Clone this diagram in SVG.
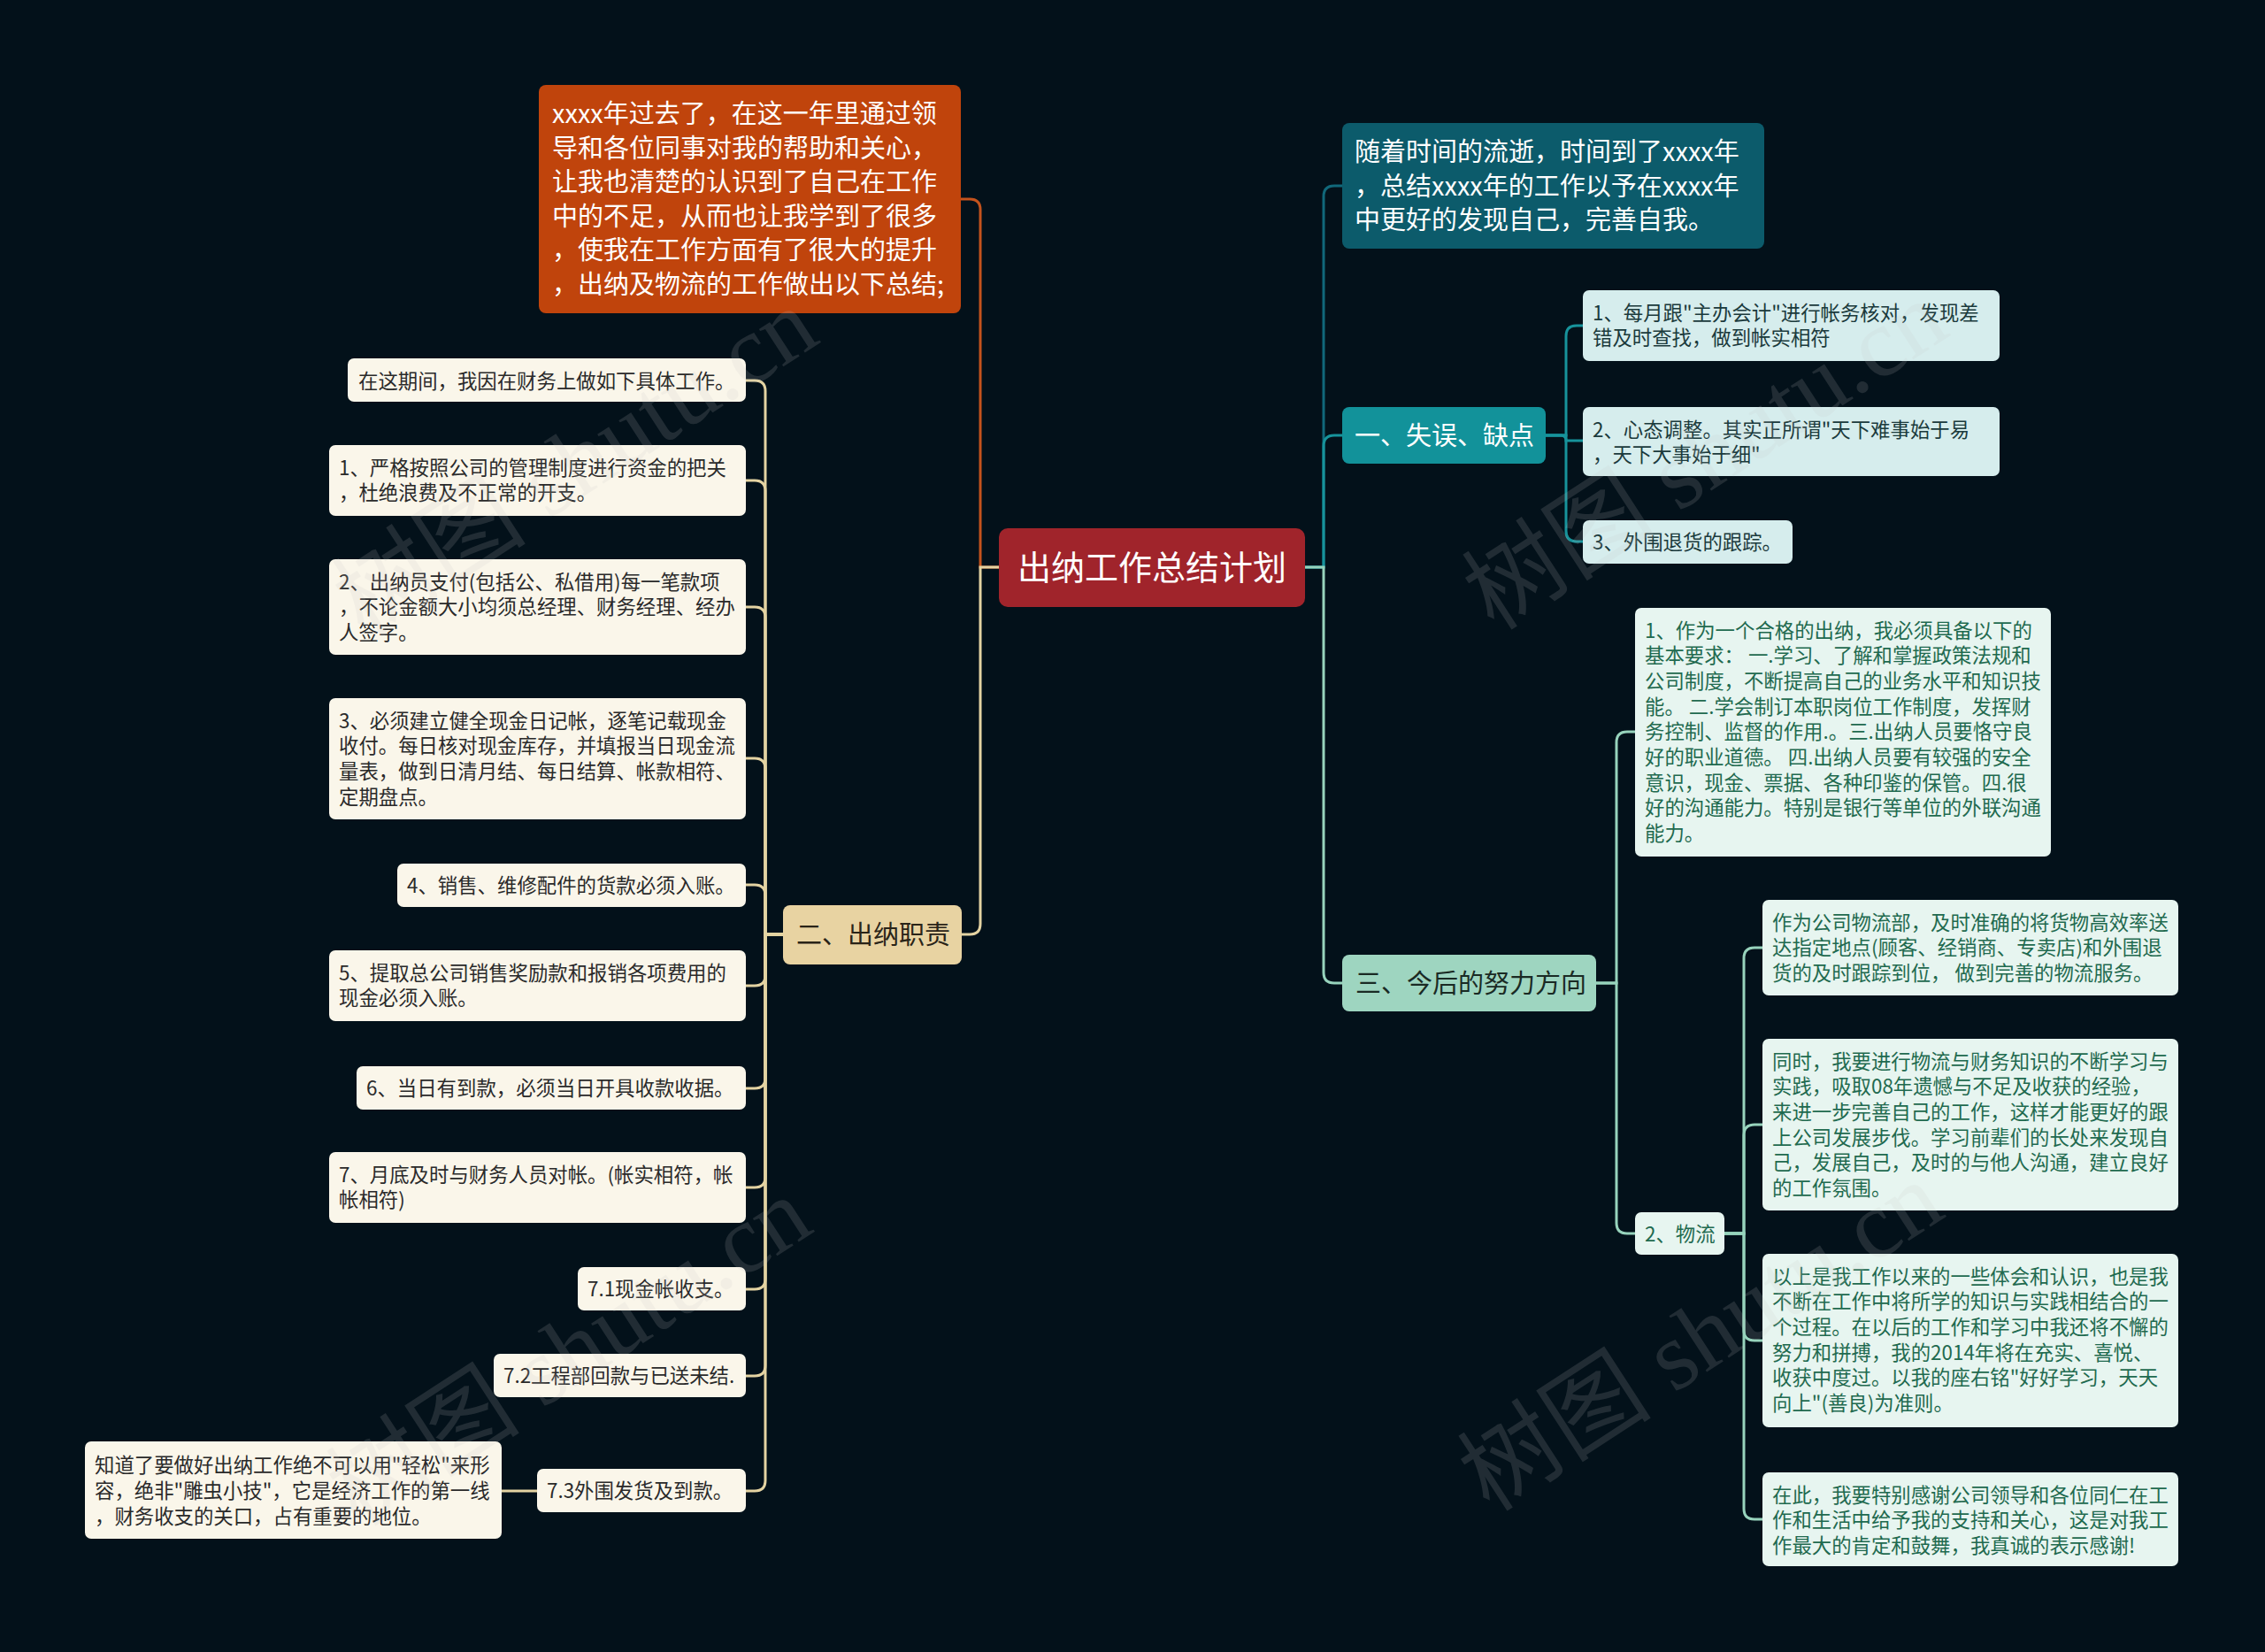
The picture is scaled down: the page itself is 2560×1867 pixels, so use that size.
<svg xmlns="http://www.w3.org/2000/svg" width="2560" height="1867" viewBox="0 0 2560 1867">
<style>
.t{font-family:"Noto Sans CJK SC","Noto Sans",sans-serif;}
.s{font-size:22.4px;}
.m{font-size:29px;}
.leafL{fill:#faf6ea;}
.txL{fill:#2a2a2a;}
.leafT{fill:#d6eded;}
.txT{fill:#1b3a3c;}
.leafM{fill:#e7f5f0;}
.txM{fill:#1f6a4f;}
.c{fill:none;stroke-width:3;stroke-linecap:round;}
.cB{stroke:#e4d3a2;}
.cO{stroke:#c4531d;}
.cD{stroke:#11687a;}
.cT{stroke:#17939b;}
.cM{stroke:#97d3bc;}
.wm{font-family:"Liberation Serif","Noto Sans CJK SC",serif;font-size:110px;fill:#c8c8c8;opacity:0.15;}
</style>
<rect x="0" y="0" width="2560" height="1867" fill="#03111a"/>

<g id="connectors">
  <path class="c cO" d="M1129,641 H1108 V237 Q1108,225 1096,225 H1086"/>
  <path class="c cB" d="M1129,641 H1108 V1044 Q1108,1056 1096,1056 H1087"/>
  <path class="c cB" d="M885,1056 H865 V442 Q865,430 853,430 H843"/>
  <path class="c cB" d="M885,1056 H865 V555 Q865,543 853,543 H843"/>
  <path class="c cB" d="M885,1056 H865 V698 Q865,686 853,686 H843"/>
  <path class="c cB" d="M885,1056 H865 V869 Q865,857 853,857 H843"/>
  <path class="c cB" d="M885,1056 H865 V1012 Q865,1000 853,1000 H843"/>
  <path class="c cB" d="M885,1056 H865 V1102 Q865,1114 853,1114 H843"/>
  <path class="c cB" d="M885,1056 H865 V1218 Q865,1230 853,1230 H843"/>
  <path class="c cB" d="M885,1056 H865 V1330 Q865,1342 853,1342 H843"/>
  <path class="c cB" d="M885,1056 H865 V1445 Q865,1457 853,1457 H843"/>
  <path class="c cB" d="M885,1056 H865 V1543 Q865,1555 853,1555 H843"/>
  <path class="c cB" d="M885,1056 H865 V1673 Q865,1685 853,1685 H843"/>
  <path class="c cB" d="M607,1685 H567"/>
  <path class="c cD" d="M1475,641 H1496 V222 Q1496,210 1508,210 H1517"/>
  <path class="c cT" d="M1475,641 H1496 V504 Q1496,492 1508,492 H1517"/>
  <path class="c cM" d="M1475,641 H1496 V1099 Q1496,1111 1508,1111 H1517"/>
  <path class="c cT" d="M1747,492 H1770 V380 Q1770,368 1782,368 H1789"/>
  <path class="c cT" d="M1747,492 H1764 Q1770,492 1770,498 H1789"/>
  <path class="c cT" d="M1747,492 H1770 V600 Q1770,612 1782,612 H1789"/>
  <path class="c cM" d="M1804,1111 H1827 V839 Q1827,827 1839,827 H1848"/>
  <path class="c cM" d="M1804,1111 H1827 V1382 Q1827,1394 1839,1394 H1848"/>
  <path class="c cM" d="M1949,1394 H1971 V1083 Q1971,1071 1983,1071 H1992"/>
  <path class="c cM" d="M1949,1394 H1971 V1283 Q1971,1271 1983,1271 H1992"/>
  <path class="c cM" d="M1949,1394 H1971 V1503 Q1971,1515 1983,1515 H1992"/>
  <path class="c cM" d="M1949,1394 H1971 V1705 Q1971,1717 1983,1717 H1992"/>
</g>

<g id="root">
  <rect x="1129" y="597" width="346" height="89" rx="10" fill="#a0242b"/>
  <text class="t" x="1302" y="655" font-size="38" fill="#ffffff" text-anchor="middle">出纳工作总结计划</text>
</g>

<g id="intro-left">
  <rect x="609" y="96" width="477" height="258" rx="8" fill="#c0440c"/>
  <text class="t m" fill="#ffffff">
    <tspan x="624" y="139">xxxx年过去了，在这一年里通过领</tspan>
    <tspan x="624" y="178">导和各位同事对我的帮助和关心，</tspan>
    <tspan x="624" y="216">让我也清楚的认识到了自己在工作</tspan>
    <tspan x="624" y="255">中的不足，从而也让我学到了很多</tspan>
    <tspan x="624" y="293">，使我在工作方面有了很大的提升</tspan>
    <tspan x="624" y="332">，出纳及物流的工作做出以下总结;</tspan>
  </text>
</g>

<g id="branch-2">
  <rect x="885" y="1023" width="202" height="67" rx="8" fill="#e8d3a2"/>
  <text class="t m" x="900" y="1067" fill="#2a2418">二、出纳职责</text>
</g>

<g id="l0">
  <rect class="leafL" x="393" y="405" width="450" height="49" rx="7"/>
  <text class="t s txL" x="405" y="438.5">在这期间，我因在财务上做如下具体工作。</text>
</g>
<g id="l1">
  <rect class="leafL" x="372" y="503" width="471" height="80" rx="7"/>
  <text class="t s txL"><tspan x="383" y="536.5">1、严格按照公司的管理制度进行资金的把关</tspan><tspan x="383" y="565">，杜绝浪费及不正常的开支。</tspan></text>
</g>
<g id="l2">
  <rect class="leafL" x="372" y="632" width="471" height="108" rx="7"/>
  <text class="t s txL"><tspan x="383" y="665.5">2、出纳员支付(包括公、私借用)每一笔款项</tspan><tspan x="383" y="694">，不论金额大小均须总经理、财务经理、经办</tspan><tspan x="383" y="723">人签字。</tspan></text>
</g>
<g id="l3">
  <rect class="leafL" x="372" y="789" width="471" height="137" rx="7"/>
  <text class="t s txL"><tspan x="383" y="822.5">3、必须建立健全现金日记帐，逐笔记载现金</tspan><tspan x="383" y="851">收付。每日核对现金库存，并填报当日现金流</tspan><tspan x="383" y="880">量表，做到日清月结、每日结算、帐款相符、</tspan><tspan x="383" y="908.5">定期盘点。</tspan></text>
</g>
<g id="l4">
  <rect class="leafL" x="449" y="976" width="394" height="49" rx="7"/>
  <text class="t s txL" x="460" y="1009">4、销售、维修配件的货款必须入账。</text>
</g>
<g id="l5">
  <rect class="leafL" x="372" y="1074" width="471" height="80" rx="7"/>
  <text class="t s txL"><tspan x="383" y="1107.5">5、提取总公司销售奖励款和报销各项费用的</tspan><tspan x="383" y="1136">现金必须入账。</tspan></text>
</g>
<g id="l6">
  <rect class="leafL" x="403" y="1205" width="440" height="49" rx="7"/>
  <text class="t s txL" x="414" y="1238">6、当日有到款，必须当日开具收款收据。</text>
</g>
<g id="l7">
  <rect class="leafL" x="372" y="1302" width="471" height="80" rx="7"/>
  <text class="t s txL"><tspan x="383" y="1335.5">7、月底及时与财务人员对帐。(帐实相符，帐</tspan><tspan x="383" y="1364">帐相符)</tspan></text>
</g>
<g id="l71">
  <rect class="leafL" x="653" y="1432" width="190" height="49" rx="7"/>
  <text class="t s txL" x="664" y="1465">7.1现金帐收支。</text>
</g>
<g id="l72">
  <rect class="leafL" x="558" y="1530" width="285" height="49" rx="7"/>
  <text class="t s txL" x="569" y="1563">7.2工程部回款与已送未结.</text>
</g>
<g id="l73">
  <rect class="leafL" x="607" y="1660" width="236" height="49" rx="7"/>
  <text class="t s txL" x="618" y="1693">7.3外围发货及到款。</text>
</g>
<g id="l73a">
  <rect class="leafL" x="96" y="1629" width="471" height="110" rx="7"/>
  <text class="t s txL"><tspan x="107" y="1664">知道了要做好出纳工作绝不可以用"轻松"来形</tspan><tspan x="107" y="1693">容，绝非"雕虫小技"，它是经济工作的第一线</tspan><tspan x="107" y="1721.5">，财务收支的关口，占有重要的地位。</tspan></text>
</g>

<g id="intro-right">
  <rect x="1517" y="139" width="477" height="142" rx="8" fill="#0c5b6b"/>
  <text class="t m" fill="#ffffff">
    <tspan x="1531" y="182">随着时间的流逝，时间到了xxxx年</tspan>
    <tspan x="1531" y="221">，总结xxxx年的工作以予在xxxx年</tspan>
    <tspan x="1531" y="259">中更好的发现自己，完善自我。</tspan>
  </text>
</g>

<g id="branch-1">
  <rect x="1517" y="460" width="230" height="64" rx="8" fill="#12929a"/>
  <text class="t m" x="1531" y="503" fill="#ffffff">一、失误、缺点</text>
</g>
<g id="r1">
  <rect class="leafT" x="1789" y="328" width="471" height="80" rx="7"/>
  <text class="t s txT"><tspan x="1800" y="361.5">1、每月跟"主办会计"进行帐务核对，发现差</tspan><tspan x="1800" y="390">错及时查找，做到帐实相符</tspan></text>
</g>
<g id="r2">
  <rect class="leafT" x="1789" y="460" width="471" height="78" rx="7"/>
  <text class="t s txT"><tspan x="1800" y="493.5">2、心态调整。其实正所谓"天下难事始于易</tspan><tspan x="1800" y="522">，天下大事始于细"</tspan></text>
</g>
<g id="r3">
  <rect class="leafT" x="1789" y="588" width="237" height="49" rx="7"/>
  <text class="t s txT" x="1800" y="621">3、外围退货的跟踪。</text>
</g>

<g id="branch-3">
  <rect x="1517" y="1079" width="287" height="64" rx="8" fill="#9ed5c0"/>
  <text class="t m" x="1532" y="1122" fill="#1a2a24">三、今后的努力方向</text>
</g>
<g id="d1">
  <rect class="leafM" x="1848" y="687" width="470" height="281" rx="7"/>
  <text class="t s txM">
    <tspan x="1859" y="720.5">1、作为一个合格的出纳，我必须具备以下的</tspan>
    <tspan x="1859" y="749.2">基本要求： 一.学习、了解和掌握政策法规和</tspan>
    <tspan x="1859" y="777.9">公司制度，不断提高自己的业务水平和知识技</tspan>
    <tspan x="1859" y="806.6">能。 二.学会制订本职岗位工作制度，发挥财</tspan>
    <tspan x="1859" y="835.3">务控制、监督的作用.。三.出纳人员要恪守良</tspan>
    <tspan x="1859" y="864">好的职业道德。 四.出纳人员要有较强的安全</tspan>
    <tspan x="1859" y="892.7">意识，现金、票据、各种印鉴的保管。四.很</tspan>
    <tspan x="1859" y="921.4">好的沟通能力。特别是银行等单位的外联沟通</tspan>
    <tspan x="1859" y="950.1">能力。</tspan>
  </text>
</g>
<g id="d2">
  <rect class="leafM" x="1848" y="1370" width="101" height="48" rx="7"/>
  <text class="t s txM" x="1859" y="1402.5">2、物流</text>
</g>
<g id="e1">
  <rect class="leafM" x="1992" y="1017" width="470" height="108" rx="7"/>
  <text class="t s txM">
    <tspan x="2003" y="1050.5">作为公司物流部，及时准确的将货物高效率送</tspan>
    <tspan x="2003" y="1079.2">达指定地点(顾客、经销商、专卖店)和外围退</tspan>
    <tspan x="2003" y="1107.9">货的及时跟踪到位， 做到完善的物流服务。</tspan>
  </text>
</g>
<g id="e2">
  <rect class="leafM" x="1992" y="1174" width="470" height="194" rx="7"/>
  <text class="t s txM">
    <tspan x="2003" y="1207.5">同时，我要进行物流与财务知识的不断学习与</tspan>
    <tspan x="2003" y="1236.2">实践，吸取08年遗憾与不足及收获的经验，</tspan>
    <tspan x="2003" y="1264.9">来进一步完善自己的工作，这样才能更好的跟</tspan>
    <tspan x="2003" y="1293.6">上公司发展步伐。学习前辈们的长处来发现自</tspan>
    <tspan x="2003" y="1322.3">己，发展自己，及时的与他人沟通，建立良好</tspan>
    <tspan x="2003" y="1351">的工作氛围。</tspan>
  </text>
</g>
<g id="e3">
  <rect class="leafM" x="1992" y="1417" width="470" height="196" rx="7"/>
  <text class="t s txM">
    <tspan x="2003" y="1450.5">以上是我工作以来的一些体会和认识，也是我</tspan>
    <tspan x="2003" y="1479.2">不断在工作中将所学的知识与实践相结合的一</tspan>
    <tspan x="2003" y="1507.9">个过程。在以后的工作和学习中我还将不懈的</tspan>
    <tspan x="2003" y="1536.6">努力和拼搏，我的2014年将在充实、喜悦、</tspan>
    <tspan x="2003" y="1565.3">收获中度过。以我的座右铭"好好学习，天天</tspan>
    <tspan x="2003" y="1594">向上"(善良)为准则。</tspan>
  </text>
</g>
<g id="e4">
  <rect class="leafM" x="1992" y="1664" width="470" height="106" rx="7"/>
  <text class="t s txM">
    <tspan x="2003" y="1697.5">在此，我要特别感谢公司领导和各位同仁在工</tspan>
    <tspan x="2003" y="1726.2">作和生活中给予我的支持和关心，这是对我工</tspan>
    <tspan x="2003" y="1754.9">作最大的肯定和鼓舞，我真诚的表示感谢!</tspan>
  </text>
</g>

<g id="watermarks">
  <text class="wm" x="650" y="560" text-anchor="middle" transform="rotate(-33 650 522)">树图 shutu.cn</text>
  <text class="wm" x="1927" y="552" text-anchor="middle" transform="rotate(-33 1927 514)">树图 shutu.cn</text>
  <text class="wm" x="643" y="1565" text-anchor="middle" transform="rotate(-33 643 1527)">树图 shutu.cn</text>
  <text class="wm" x="1922" y="1548" text-anchor="middle" transform="rotate(-33 1922 1510)">树图 shutu.cn</text>
</g>
</svg>
